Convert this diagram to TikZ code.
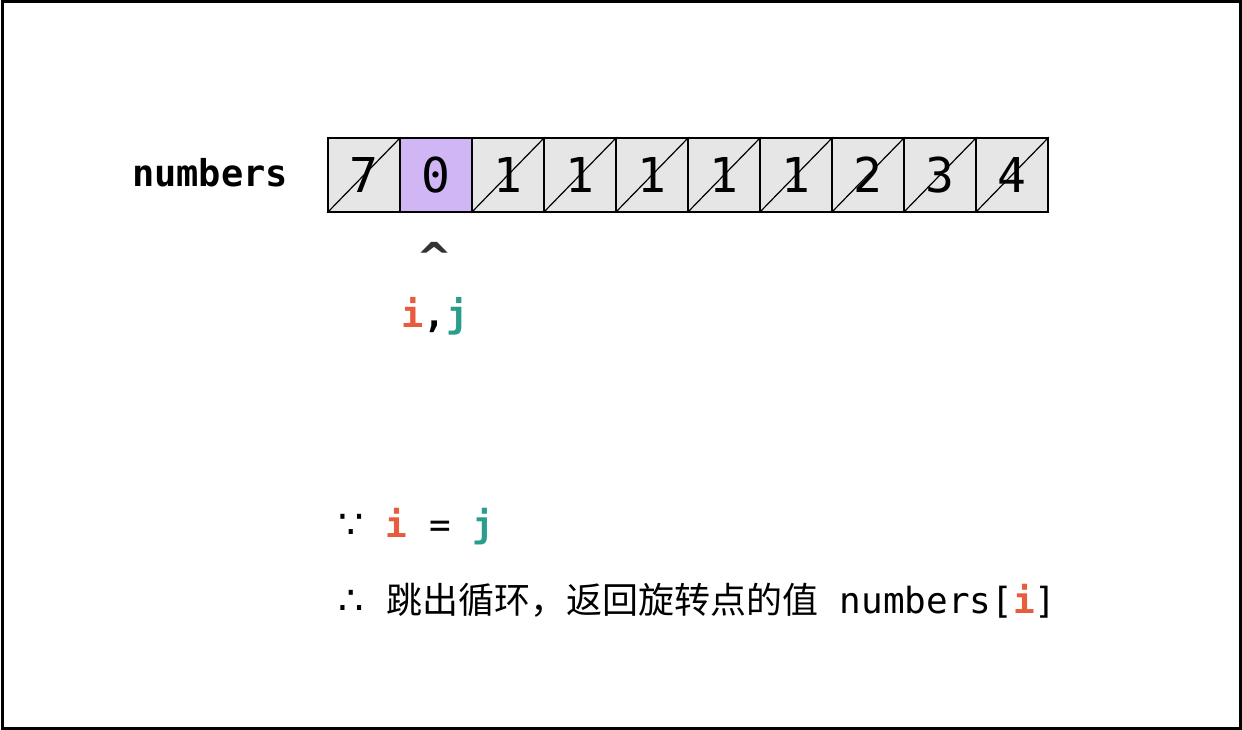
\documentclass[tikz,border=0pt]{standalone}
\usepackage{fontspec}
\setmonofont{DejaVu Sans Mono}
\newfontfamily\cjk{Noto Sans CJK SC}
\newfontfamily\symf{DejaVu Sans}
\definecolor{cellgray}{HTML}{E6E6E6}
\definecolor{cellpurple}{HTML}{D1B6F5}
\definecolor{iorange}{HTML}{E65C3C}
\definecolor{jteal}{HTML}{2A9D8C}
\definecolor{caret}{HTML}{333333}
\tikzset{
  cell/.style={draw=black, line width=1.5pt, minimum width=72pt, minimum height=74pt, inner sep=0pt, fill=cellgray, font=\fontsize{48}{48}\selectfont\ttfamily},
  txt/.style={inner sep=0pt, anchor=base, font=\fontsize{36}{36}\selectfont\ttfamily},
}
\begin{document}
\begin{tikzpicture}[x=1pt,y=-1pt]
\useasboundingbox (0,0) rectangle (1242,730);
\draw[line width=3pt] (2,2) rectangle (1240,728);
\node[txt, font=\fontsize{37}{37}\selectfont\ttfamily\bfseries] (lbl) at (210,187) {numbers};
\foreach \v [count=\k from 0] in {7,0,1,1,1,1,1,2,3,4} {
  \node[cell] (c\k) at ({364+72*\k},175) {\v};
}
\node[cell, fill=cellpurple] (c1) at (436,175) {0};
\foreach \k in {0,2,3,4,5,6,7,8,9} {
  \draw[line width=1.2pt] (c\k.south west) -- (c\k.north east);
}
\node[txt, text=caret, font=\fontsize{40}{40}\selectfont\ttfamily\bfseries] (car) at (435,271) {\scalebox{1.25}[1]{\^{}}};
\node[txt, font=\fontsize{37}{37}\selectfont\ttfamily\bfseries] (ij) at (435,327) {\textcolor{iorange}{i},\textcolor{jteal}{j}};
\node[txt, font=\fontsize{40}{40}\selectfont\symf] (because) at (351,538) {∵};
\node[txt] (eq) at (440,537) {\textbf{\textcolor{iorange}{i}} = \textbf{\textcolor{jteal}{j}}};
\node[txt, font=\fontsize{40}{40}\selectfont\symf] (therefore) at (351,614) {∴};
\node[txt, anchor=base west] (concl) at (386,613) {{\cjk 跳出循环，返回旋转点的值} numbers[\textbf{\textcolor{iorange}{i}}]};
\end{tikzpicture}
\end{document}
